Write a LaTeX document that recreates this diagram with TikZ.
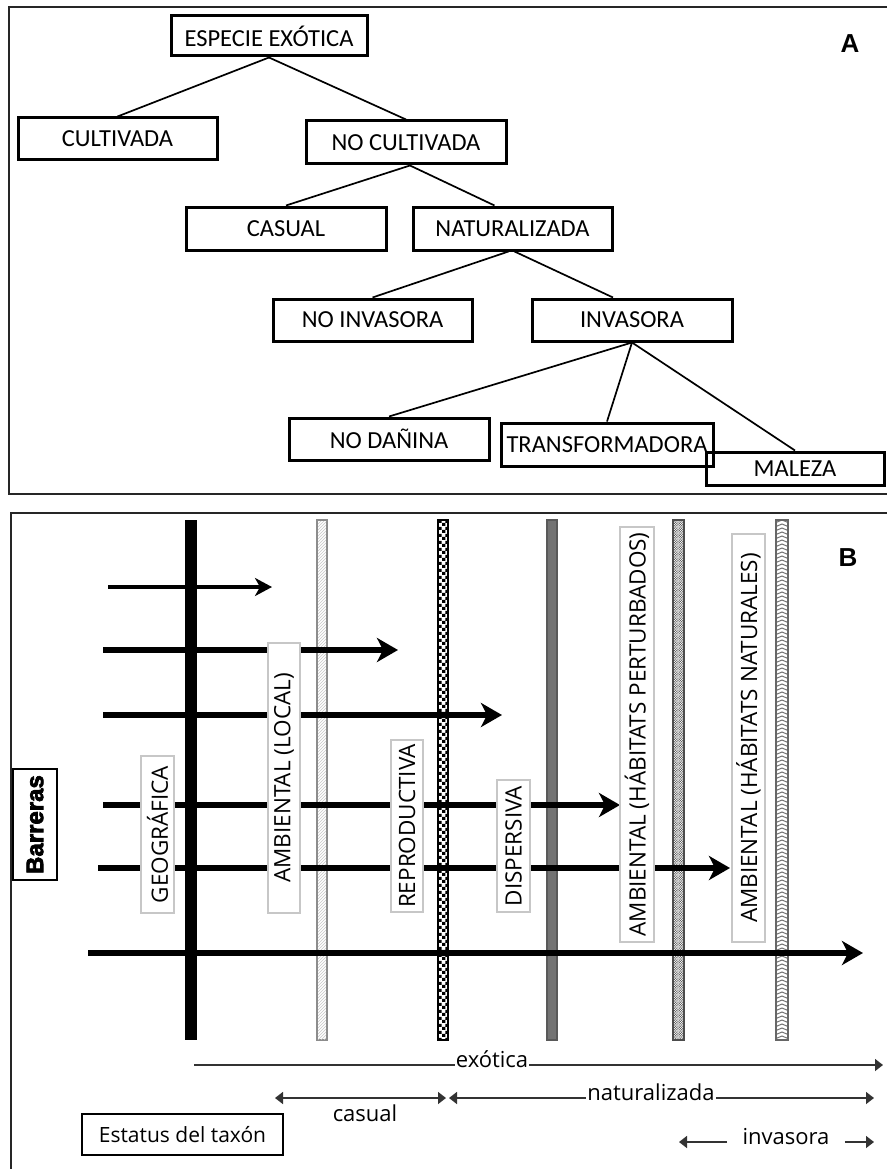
\documentclass[tikz,border=0pt]{standalone}
\usepackage{fontspec}
\setmainfont{Open Sans}
\newfontfamily\carlfont{Carlito}
\newfontfamily\arialfont{Liberation Sans}
\newfontfamily\barfont{Liberation Sans}[BoldFeatures={FakeBold=3}]
\usetikzlibrary{arrows.meta,patterns}

\pgfdeclarepatternformonly{mychecker}{\pgfqpoint{0pt}{0pt}}{\pgfqpoint{6.6pt}{6.6pt}}{\pgfqpoint{6.6pt}{6.6pt}}{%
\pgfpathrectangle{\pgfqpoint{0pt}{0pt}}{\pgfqpoint{3.3pt}{3.3pt}}%
\pgfpathrectangle{\pgfqpoint{3.3pt}{3.3pt}}{\pgfqpoint{3.3pt}{3.3pt}}%
\pgfusepath{fill}}

\pgfdeclarepatternformonly{mystipple}{\pgfqpoint{-0.7pt}{-0.7pt}}{\pgfqpoint{1.9pt}{1.9pt}}{\pgfqpoint{2.4pt}{2.4pt}}{%
\pgfpathcircle{\pgfqpoint{0pt}{0pt}}{0.7pt}%
\pgfpathcircle{\pgfqpoint{1.2pt}{1.2pt}}{0.7pt}%
\pgfusepath{fill}}

\begin{document}
\begin{tikzpicture}[x=1pt,y=-1pt,
  treebox/.style={draw=black, line width=3pt, inner sep=0pt, font=\carlfont\fontsize{24.5}{28}\selectfont},
  treeline/.style={line width=1.7pt, black},
  framebox/.style={line width=2pt, black!85},
  rowarrow/.style={line width=6.5pt, -{Stealth[length=21pt,width=24pt,inset=6pt]}},
  rowthin/.style={line width=3.5pt, -{Stealth[length=17pt,width=18pt,inset=5pt]}},
  barlabel/.style={draw=black!22, line width=1.2pt, fill=white, rotate=90, inner sep=0pt, font=\fontsize{22.5}{26}\selectfont},
  statusline/.style={line width=1.5pt, black!80},
  stip/.style={-{Triangle[length=8pt,width=12pt]}},
  stipb/.style={{Triangle[length=8pt,width=12pt]}-{Triangle[length=8pt,width=12pt]}},
  stiptext/.style={fill=white, inner xsep=1pt, inner ysep=2pt, anchor=mid, font=\fontsize{22}{26}\selectfont},
  paneltag/.style={font=\arialfont\bfseries\fontsize{26}{30}\selectfont}
]
\useasboundingbox (0,0) rectangle (886,1169);
\fill[white] (0,0) rectangle (886,1169);

% ---------------- Panel A ----------------
\draw[framebox] (9,7) rectangle (892,494);
\node[paneltag] (tagA) at (850,44) {A};

\node[treebox, minimum width=196pt, minimum height=40pt] (esp) at (269,36) {ESPECIE EXÓTICA};
\node[treebox, minimum width=199pt, minimum height=42pt] (cult) at (117.5,139) {CULTIVADA};
\node[treebox, minimum width=200pt, minimum height=43pt] (nocult) at (406,142.5) {NO CULTIVADA};
\node[treebox, minimum width=200pt, minimum height=43pt] (casual) at (286,228.5) {CASUAL};
\node[treebox, minimum width=199pt, minimum height=43pt] (natur) at (512.5,228.5) {NATURALIZADA};
\node[treebox, minimum width=199pt, minimum height=42pt] (noinv) at (372.5,320) {NO INVASORA};
\node[treebox, minimum width=200pt, minimum height=42pt] (inv) at (632,320) {INVASORA};
\node[treebox, minimum width=200pt, minimum height=42pt] (nodan) at (389,439) {NO DAÑINA};
\node[treebox, minimum width=212pt, minimum height=43pt] (trans) at (607,444.5) {TRANSFORMADORA};
\node[treebox, minimum width=178pt, minimum height=33pt] (maleza) at (795,468.5) {MALEZA};

\draw[treeline] (esp.south) -- (cult.north);
\draw[treeline] (esp.south) -- (nocult.north);
\draw[treeline] ([xshift=4pt]nocult.south) -- (casual.north);
\draw[treeline] ([xshift=4pt]nocult.south) -- ([xshift=-18pt]natur.north);
\draw[treeline] ([xshift=-4pt]natur.south) -- (noinv.north);
\draw[treeline] ([xshift=2pt]natur.south) -- ([xshift=-19pt]inv.north);
\draw[treeline] (inv.south) -- (nodan.north);
\draw[treeline] (inv.south) -- (trans.north);
\draw[treeline] (inv.south) -- (maleza.north);

% ---------------- Panel B ----------------
\draw[framebox] (11,513) rectangle (892,1176);
\node[paneltag] (tagB) at (848,558) {B};

% barriers (bars)
\fill[black] (185,520) rectangle (197,1040);
\draw[black!45, line width=1.2pt, fill=white] (317,520) rectangle (327,1040);
\fill[pattern=north east lines, pattern color=black!22] (318,521) rectangle (326,1039);
\draw[black, line width=1.2pt, pattern=mychecker] (438,520) rectangle (448,1040);
\draw[black!65, line width=1.2pt, fill=black!55] (547,520) rectangle (557,1040);
\draw[black!70, line width=1.2pt, fill=white] (673,520) rectangle (684,1040);
\fill[pattern=mystipple, pattern color=black!65] (674,521) rectangle (683,1039);
\draw[black!70, line width=1.2pt] (673,520) rectangle (684,1040);
\begin{scope}
  \clip (776,520) rectangle (788,1040);
  \foreach \yy in {516,520,...,1044} {
    \draw[black!55, line width=1pt] (776,\yy+2.5) -- (782,\yy) -- (788,\yy+2.5);
  }
\end{scope}
\draw[black!60, line width=1.2pt] (776,520) rectangle (788,1040);

% arrows of taxa
\draw[rowthin] (108,587) -- (272,587);
\draw[rowarrow] (103,650) -- (398,650);
\draw[rowarrow] (103,715) -- (502,715);
\draw[rowarrow] (103,805) -- (620,805);
\draw[rowarrow] (98,868) -- (730,868);
\draw[rowarrow] (88,953) -- (863,953);

% barrier labels
\node[barlabel, minimum width=157pt, minimum height=33pt] (geo) at (157.5,834.5) {GEOGRÁFICA};
\node[barlabel, minimum width=270pt, minimum height=32pt] (ambl) at (284,778) {AMBIENTAL (LOCAL)};
\node[barlabel, minimum width=172pt, minimum height=32pt] (repro) at (407,826) {REPRODUCTIVA};
\node[barlabel, minimum width=132pt, minimum height=33pt] (disp) at (513.5,846) {DISPERSIVA};
\node[barlabel, minimum width=415pt, minimum height=34pt] (ambp) at (637,734.5) {AMBIENTAL (HÁBITATS PERTURBADOS)};
\node[barlabel, minimum width=408pt, minimum height=33pt] (ambn) at (748.5,738) {AMBIENTAL (HÁBITATS NATURALES)};

\node[draw=black, line width=2.2pt, rotate=90, minimum width=111pt, minimum height=44pt, inner sep=0pt,
      font=\barfont\bfseries\fontsize{24}{26}\selectfont] (barr) at (35,824.5) {Barreras};

% status of taxon
\coordinate (exs) at (194,1065);
\coordinate (exe) at (883,1065);
\draw[statusline, stip] (exs) -- (exe);
\node[stiptext] (exo) at (492,1065) {exótica};

\coordinate (cas) at (275,1098);
\coordinate (cae) at (446,1098);
\draw[statusline, stipb] (cas) -- (cae);
\node[font=\fontsize{22}{26}\selectfont, anchor=mid] (castxt) at (365,1119) {casual};

\coordinate (nas) at (449,1098);
\coordinate (nae) at (874,1098);
\draw[statusline, stipb] (nas) -- (nae);
\node[stiptext] (nat) at (651,1098) {naturalizada};

\node[font=\fontsize{22}{26}\selectfont, anchor=mid] (invt) at (786,1142) {invasora};
\coordinate (ivl) at (679,1142);
\coordinate (ivr) at (874,1142);
\draw[statusline, stip] ([xshift=-12pt]invt.west |- ivl) -- (ivl);
\draw[statusline, stip] ([xshift=12pt]invt.east |- ivr) -- (ivr);

\node[draw=black, line width=1.5pt, minimum width=201pt, minimum height=41pt, inner sep=0pt,
      font=\fontsize{21}{25}\selectfont] (estatus) at (182.5,1134.5) {Estatus del taxón};
\end{tikzpicture}
\end{document}
